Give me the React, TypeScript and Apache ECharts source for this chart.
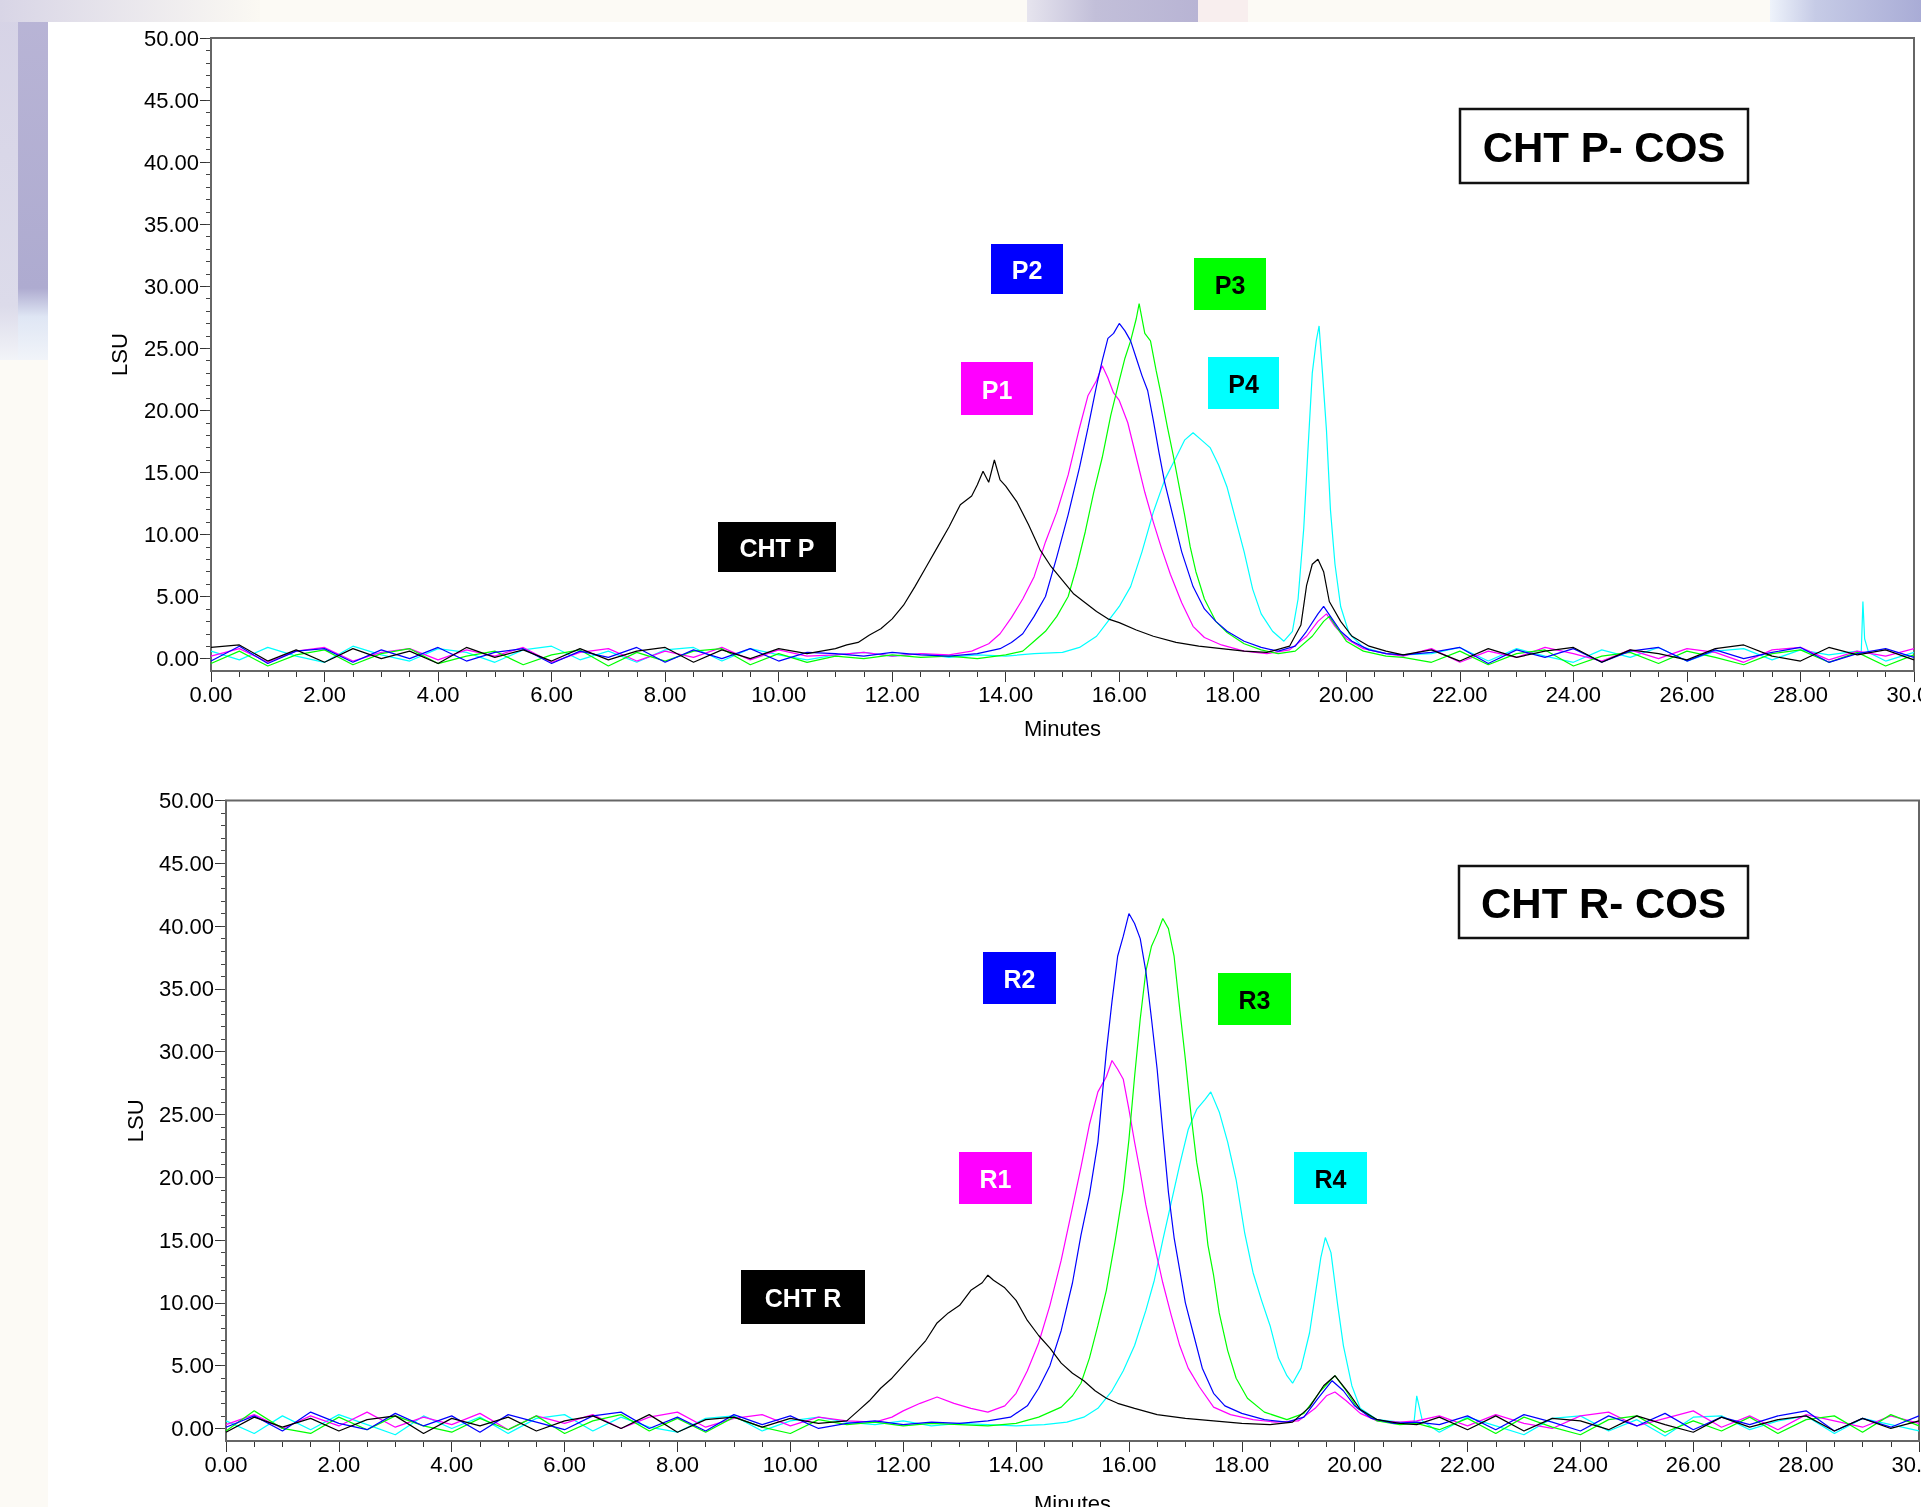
import React, { useEffect, useRef } from "react";
import * as echarts from "echarts";

const FONT = '"Liberation Sans", Arial, Helvetica, sans-serif';

// Shared time grids for the flat baseline stretches (minutes)
const earlyTimes = [0, 0.5, 1, 1.5, 2, 2.5, 3, 3.5, 4, 4.5, 5, 5.5, 6, 6.5, 7, 7.5, 8, 8.5, 9, 9.5, 10, 10.5];
const lateTimes = [21.5, 22, 22.5, 23, 23.5, 24, 24.5, 25, 25.5, 26, 26.5, 27, 27.5, 28, 28.5, 29, 29.5, 30];

const yMajorTicks = [0, 5, 10, 15, 20, 25, 30, 35, 40, 45, 50];
const yMinorTicks = [0, 1, 2, 3, 4, 5, 6, 7, 8, 9, 10, 11, 12, 13, 14, 15, 16, 17, 18, 19, 20, 21, 22, 23, 24, 25, 26, 27, 28, 29, 30, 31, 32, 33, 34, 35, 36, 37, 38, 39, 40, 41, 42, 43, 44, 45, 46, 47, 48, 49, 50];

// ---------------- Top chart: CHT P- COS ----------------
const chtP_early = [0.9, 1.1, -0.2, 0.7, -0.3, 0.8, 0.0, 0.6, -0.4, 0.9, 0.1, 0.7, -0.2, 0.8, -0.1, 0.6, 0.9, -0.3, 0.7, 0.0, 0.8, 0.4];
const chtP_mid = [[11, 0.8], [11.2, 1.1], [11.4, 1.3], [11.6, 1.9], [11.8, 2.4], [12, 3.2], [12.2, 4.3], [12.4, 5.8], [12.6, 7.4], [12.8, 9.0], [13, 10.6], [13.2, 12.4], [13.4, 13.1], [13.5, 14.0], [13.6, 15.1], [13.7, 14.2], [13.8, 16.0], [13.9, 14.4], [14, 13.9], [14.2, 12.6], [14.4, 10.8], [14.6, 8.8], [14.8, 7.4], [15, 6.3], [15.2, 5.2], [15.4, 4.5], [15.6, 3.8], [15.8, 3.2], [16, 2.9], [16.3, 2.3], [16.6, 1.8], [17, 1.3], [17.4, 1.0], [17.8, 0.8], [18.2, 0.6], [18.6, 0.5], [19, 1.0], [19.2, 2.7], [19.3, 5.9], [19.4, 7.6], [19.5, 8.0], [19.6, 7.0], [19.7, 4.6], [19.9, 3.0], [20.1, 1.8], [20.4, 1.0], [20.7, 0.6], [21, 0.3]];
const chtP_late = [0.7, -0.2, 0.8, 0.1, 0.6, 0.9, -0.3, 0.7, 0.4, -0.1, 0.8, 1.1, 0.2, -0.2, 0.9, 0.3, 0.7, -0.1];

const p1_early = [0.2, 0.8, -0.3, 0.6, 0.9, -0.2, 0.5, 0.8, -0.1, 0.7, 0.2, 0.9, -0.3, 0.5, 0.8, -0.2, 0.6, 0.1, 0.9, -0.1, 0.7, 0.2];
const p1_mid = [[11, 0.3], [11.5, 0.5], [12, 0.2], [12.5, 0.4], [13, 0.3], [13.4, 0.6], [13.7, 1.2], [13.9, 2.0], [14.1, 3.3], [14.3, 4.8], [14.5, 6.6], [14.7, 9.4], [14.9, 11.8], [15.1, 14.8], [15.3, 18.6], [15.45, 21.2], [15.6, 22.4], [15.7, 23.6], [15.8, 22.6], [15.9, 21.4], [16, 20.8], [16.15, 19.0], [16.3, 16.2], [16.45, 13.4], [16.6, 11.0], [16.75, 8.8], [16.9, 6.8], [17.1, 4.5], [17.3, 2.6], [17.5, 1.7], [17.8, 1.1], [18.2, 0.6], [18.6, 0.4], [19, 0.7], [19.3, 1.8], [19.5, 3.0], [19.65, 3.6], [19.8, 2.6], [20, 1.6], [20.3, 0.8], [20.7, 0.4], [21, 0.2]];
const p1_late = [0.8, -0.3, 0.6, 0.1, 0.9, 0.4, -0.2, 0.7, 0.0, 0.8, 0.5, -0.3, 0.7, 0.9, -0.1, 0.6, 0.2, 0.8];

const p2_early = [-0.2, 1.0, -0.4, 0.6, 0.8, -0.3, 0.7, 0.0, 0.9, -0.2, 0.5, 0.8, -0.4, 0.6, 0.1, 0.9, -0.3, 0.7, 0.0, 0.8, -0.2, 0.5];
const p2_mid = [[11, 0.4], [11.5, 0.2], [12, 0.5], [12.5, 0.3], [13, 0.2], [13.5, 0.4], [13.9, 0.8], [14.1, 1.3], [14.3, 2.0], [14.5, 3.4], [14.7, 5.0], [14.9, 8.2], [15.1, 11.6], [15.3, 15.4], [15.45, 18.6], [15.6, 22.0], [15.7, 24.0], [15.8, 25.8], [15.9, 26.2], [16, 27.0], [16.1, 26.4], [16.2, 25.6], [16.3, 24.2], [16.4, 22.8], [16.5, 21.6], [16.6, 19.2], [16.7, 16.6], [16.8, 14.2], [16.95, 11.4], [17.1, 8.6], [17.3, 5.8], [17.5, 4.0], [17.7, 3.0], [17.9, 2.2], [18.2, 1.4], [18.5, 0.9], [18.8, 0.6], [19.1, 1.0], [19.3, 2.2], [19.5, 3.6], [19.6, 4.2], [19.75, 3.2], [19.9, 2.2], [20.1, 1.4], [20.4, 0.7], [20.7, 0.4], [21, 0.3]];
const p2_late = [0.5, 0.9, -0.4, 0.7, 0.1, 0.8, -0.3, 0.6, 0.9, -0.2, 0.7, 0.0, 0.5, 0.9, -0.3, 0.4, 0.8, 0.1];

const p3_early = [-0.4, 0.6, -0.6, 0.3, 0.7, -0.5, 0.4, 0.8, -0.4, 0.2, 0.6, -0.5, 0.3, 0.7, -0.6, 0.5, -0.2, 0.6, 0.8, -0.5, 0.4, -0.3];
const p3_mid = [[11, 0.2], [11.5, 0.0], [12, 0.3], [12.5, 0.1], [13, 0.2], [13.5, 0.0], [14, 0.3], [14.3, 0.6], [14.5, 1.4], [14.7, 2.2], [14.9, 3.4], [15.1, 5.0], [15.25, 7.4], [15.4, 10.2], [15.55, 13.4], [15.7, 16.2], [15.85, 19.6], [16, 22.4], [16.1, 24.2], [16.2, 25.6], [16.3, 27.4], [16.35, 28.6], [16.45, 26.2], [16.55, 25.6], [16.65, 23.2], [16.75, 21.0], [16.85, 18.6], [16.95, 16.4], [17.05, 14.0], [17.15, 11.6], [17.25, 9.0], [17.35, 7.0], [17.5, 4.8], [17.7, 3.0], [17.9, 2.1], [18.2, 1.2], [18.5, 0.7], [18.8, 0.4], [19.1, 0.6], [19.4, 1.8], [19.6, 3.0], [19.7, 3.4], [19.85, 2.4], [20, 1.4], [20.3, 0.6], [20.7, 0.2], [21, 0.1]];
const p3_late = [-0.3, 0.6, -0.5, 0.4, 0.7, -0.6, 0.2, 0.5, -0.4, 0.6, 0.1, -0.5, 0.4, 0.7, -0.3, 0.5, -0.6, 0.3];

const p4_early = [0.6, -0.1, 0.9, 0.2, -0.3, 1.0, 0.3, -0.2, 0.8, 0.5, -0.3, 0.7, 1.0, -0.1, 0.6, -0.3, 0.7, 0.9, -0.2, 0.8, 0.3, -0.1];
const p4_mid = [[11, 0.3], [11.5, 0.5], [12, 0.2], [12.5, 0.4], [13, 0.1], [13.5, 0.3], [14, 0.2], [14.5, 0.4], [15, 0.5], [15.3, 0.9], [15.6, 1.8], [15.8, 3.0], [16, 4.2], [16.2, 5.8], [16.4, 8.6], [16.6, 11.8], [16.8, 14.4], [17, 16.2], [17.15, 17.6], [17.3, 18.2], [17.45, 17.6], [17.6, 17.0], [17.75, 15.6], [17.9, 13.8], [18.05, 11.2], [18.2, 8.6], [18.35, 5.6], [18.5, 3.6], [18.7, 2.2], [18.9, 1.4], [19.05, 2.2], [19.15, 4.8], [19.25, 10.5], [19.32, 16.5], [19.4, 23.0], [19.47, 25.6], [19.52, 26.8], [19.58, 23.0], [19.65, 18.4], [19.72, 12.0], [19.8, 7.6], [19.9, 4.2], [20.05, 2.0], [20.3, 0.9], [20.7, 0.4], [21, 0.3]];
const p4_late = [0.4, 0.9, -0.2, 0.8, 0.2, -0.3, 0.7, 0.1, 0.9, -0.2, 0.6, 0.8, -0.1, 0.7, 0.3, 0.6, -0.2, 0.5];
const p4_spike = [[29.07, 0.4], [29.1, 4.6], [29.13, 1.6], [29.2, 0.5]];

// ---------------- Bottom chart: CHT R- COS ----------------
const chtR_early = [-0.3, 0.9, 0.1, 0.8, -0.2, 0.7, 1.0, -0.4, 0.8, 0.2, 0.9, -0.2, 0.6, 1.0, 0.0, 1.1, -0.3, 0.7, 0.9, 0.1, 0.8, 0.4];
const chtR_mid = [[11, 0.6], [11.2, 1.4], [11.4, 2.2], [11.6, 3.2], [11.8, 4.0], [12, 5.0], [12.2, 6.0], [12.4, 7.0], [12.6, 8.4], [12.8, 9.2], [13, 9.8], [13.2, 11.0], [13.4, 11.6], [13.5, 12.2], [13.6, 11.8], [13.8, 11.2], [14, 10.2], [14.2, 8.6], [14.4, 7.4], [14.6, 6.4], [14.8, 5.2], [15, 4.4], [15.2, 3.8], [15.4, 3.0], [15.6, 2.4], [15.8, 2.0], [16.1, 1.6], [16.5, 1.1], [17, 0.8], [17.5, 0.6], [18, 0.4], [18.5, 0.3], [18.9, 0.5], [19.2, 1.7], [19.45, 3.4], [19.65, 4.2], [19.9, 2.8], [20.1, 1.5], [20.4, 0.7], [20.8, 0.4], [21.1, 0.3]];
const chtR_late = [0.9, -0.1, 1.0, -0.2, 0.8, 0.6, -0.1, 1.0, 0.3, -0.3, 0.9, 0.1, 0.7, 1.0, -0.2, 0.8, 0.0, 0.6];

const r1_early = [0.3, 1.1, 0.0, 1.0, 0.2, 1.3, 0.1, 0.9, 0.3, 1.2, -0.1, 1.0, 0.4, 1.1, 0.0, 0.9, 1.3, 0.1, 0.8, 1.1, 0.2, 0.9];
const r1_mid = [[11, 0.6], [11.5, 0.5], [11.8, 0.9], [12, 1.4], [12.3, 2.0], [12.6, 2.5], [12.9, 2.0], [13.2, 1.6], [13.5, 1.3], [13.8, 1.8], [14, 2.8], [14.2, 4.6], [14.4, 6.8], [14.6, 9.8], [14.8, 13.4], [15, 17.6], [15.15, 20.8], [15.3, 24.2], [15.45, 26.8], [15.6, 28.0], [15.7, 29.3], [15.8, 28.6], [15.9, 27.8], [16, 25.4], [16.1, 22.8], [16.2, 20.4], [16.3, 17.8], [16.45, 14.6], [16.6, 11.6], [16.75, 9.0], [16.9, 6.6], [17.05, 4.8], [17.25, 3.3], [17.5, 1.7], [17.8, 1.1], [18.2, 0.7], [18.6, 0.5], [19, 0.6], [19.3, 1.6], [19.5, 2.6], [19.65, 2.9], [19.85, 2.2], [20.1, 1.2], [20.4, 0.6], [20.8, 0.5], [21.1, 0.6]];
const r1_late = [1.0, 0.2, 1.1, 0.4, 0.0, 1.0, 1.3, 0.2, 0.8, 1.4, 0.1, 1.0, -0.1, 1.1, 0.6, 0.1, 1.0, 0.4];

const r2_early = [0.1, 1.0, -0.2, 1.3, 0.4, -0.1, 1.2, 0.2, 1.0, -0.3, 1.1, 0.5, -0.1, 1.0, 1.3, 0.0, 0.9, -0.2, 1.1, 0.3, 1.0, 0.0];
const r2_mid = [[11, 0.4], [11.5, 0.6], [12, 0.3], [12.5, 0.5], [13, 0.4], [13.5, 0.6], [13.9, 0.9], [14.2, 1.8], [14.4, 3.2], [14.6, 5.0], [14.8, 7.8], [15, 11.6], [15.15, 15.4], [15.3, 18.6], [15.45, 22.8], [15.6, 30.0], [15.7, 34.0], [15.8, 37.6], [15.9, 39.2], [16, 41.0], [16.1, 40.2], [16.2, 39.0], [16.3, 36.4], [16.4, 32.6], [16.5, 28.6], [16.6, 23.6], [16.7, 18.8], [16.8, 15.2], [16.9, 12.6], [17, 10.0], [17.15, 7.4], [17.3, 4.8], [17.5, 2.8], [17.7, 1.8], [18, 1.2], [18.4, 0.7], [18.8, 0.5], [19.1, 0.9], [19.35, 2.4], [19.6, 3.8], [19.8, 3.0], [20, 1.8], [20.3, 0.8], [20.7, 0.4], [21.1, 0.5]];
const r2_late = [0.3, 1.0, -0.1, 1.1, 0.5, -0.2, 1.0, 0.2, 1.2, -0.1, 0.9, 0.3, 1.0, 1.4, -0.2, 0.8, 0.1, 1.0];

const r3_early = [-0.2, 1.4, 0.0, -0.4, 0.9, -0.1, 1.0, 0.2, -0.3, 0.8, -0.1, 1.0, -0.4, 0.6, 1.1, -0.2, 0.8, -0.3, 0.9, 0.1, -0.4, 0.7];
const r3_mid = [[11, 0.3], [11.5, 0.5], [12, 0.2], [12.5, 0.4], [13, 0.3], [13.5, 0.2], [14, 0.4], [14.4, 0.9], [14.8, 1.7], [15, 2.6], [15.15, 3.6], [15.3, 5.6], [15.45, 8.2], [15.6, 11.0], [15.75, 14.8], [15.9, 19.0], [16, 23.0], [16.1, 28.0], [16.2, 32.6], [16.3, 36.4], [16.4, 38.4], [16.5, 39.4], [16.6, 40.6], [16.7, 39.8], [16.8, 37.6], [16.9, 33.4], [17, 29.4], [17.1, 25.0], [17.2, 21.2], [17.3, 18.6], [17.4, 14.6], [17.5, 12.2], [17.6, 9.2], [17.75, 6.2], [17.9, 4.0], [18.1, 2.4], [18.4, 1.3], [18.8, 0.7], [19.1, 1.2], [19.4, 3.0], [19.65, 4.2], [19.85, 3.0], [20.05, 1.6], [20.4, 0.6], [20.8, 0.3], [21.1, 0.4]];
const r3_late = [-0.1, 0.8, -0.4, 0.9, 0.1, -0.5, 0.7, 1.0, -0.3, 0.6, -0.2, 0.9, -0.4, 0.7, 1.0, -0.3, 1.1, 0.2];

const r4_early = [0.6, -0.4, 1.0, -0.1, 1.1, 0.3, -0.5, 1.0, 0.0, 0.9, -0.4, 0.8, 1.1, -0.2, 0.9, 0.1, -0.3, 0.8, 1.0, -0.2, 0.6, 0.9];
const r4_mid = [[11, 0.5], [11.5, 0.3], [12, 0.6], [12.5, 0.2], [13, 0.4], [13.5, 0.3], [14, 0.2], [14.5, 0.3], [14.9, 0.5], [15.2, 0.9], [15.45, 1.6], [15.7, 3.0], [15.9, 4.6], [16.1, 6.6], [16.3, 9.4], [16.45, 11.8], [16.6, 15.0], [16.75, 18.0], [16.9, 21.0], [17.05, 23.8], [17.2, 25.4], [17.35, 26.2], [17.45, 26.8], [17.6, 25.2], [17.75, 22.8], [17.9, 19.8], [18.05, 15.6], [18.2, 12.4], [18.35, 10.2], [18.5, 8.2], [18.65, 5.6], [18.8, 4.2], [18.9, 3.6], [19.05, 4.8], [19.2, 7.6], [19.3, 10.6], [19.4, 13.6], [19.48, 15.2], [19.58, 14.0], [19.7, 9.8], [19.8, 6.6], [19.95, 3.4], [20.1, 1.6], [20.4, 0.7], [20.8, 0.5], [21.05, 0.4], [21.1, 2.6], [21.2, 0.6]];
const r4_late = [-0.3, 0.9, 0.2, -0.5, 0.8, 1.0, -0.2, 0.7, -0.6, 0.9, 1.0, -0.1, 0.6, 1.0, -0.4, 0.8, 0.3, -0.2];

function buildSeries(early: number[], mid: number[][], late: number[], extra: number[][] = []) {
  const pts = [
    ...earlyTimes.map((t, i) => [t, early[i]]),
    ...mid,
    ...lateTimes.map((t, i) => [t, late[i]]),
    ...extra,
  ];
  return pts.sort((a, b) => a[0] - b[0]);
}

const COLORS = { black: "#000000", magenta: "#ff00ff", blue: "#0000ff", green: "#00ff00", cyan: "#00ffff" };

function lineSeries(name: string, color: string, data: number[][], xi: number, yi: number) {
  return {
    type: "line",
    name,
    xAxisIndex: xi,
    yAxisIndex: yi,
    data,
    showSymbol: false,
    symbol: "none",
    lineStyle: { color, width: 1.2 },
    itemStyle: { color },
    z: 3,
  };
}

function xAxisCfg(gridIndex: number, nameGap: number) {
  return {
    type: "value",
    gridIndex,
    min: 0,
    max: 30,
    interval: 2,
    name: "Minutes",
    nameLocation: "middle",
    nameGap,
    nameTextStyle: { fontSize: 22, color: "#000", fontFamily: FONT },
    axisLine: { show: true, onZero: false, lineStyle: { color: "#808080", width: 2 } },
    axisTick: { show: true, length: 11, lineStyle: { color: "#333", width: 1 } },
    minorTick: { show: true, splitNumber: 4, length: 6, lineStyle: { color: "#333", width: 1 } },
    axisLabel: { fontSize: 22, color: "#000", margin: 12, fontFamily: FONT, formatter: (v: number) => v.toFixed(2) },
    splitLine: { show: false },
    minorSplitLine: { show: false },
  };
}

function yAxisCfg(gridIndex: number, nameGap: number) {
  return {
    type: "value",
    gridIndex,
    min: -1,
    max: 50,
    name: "LSU",
    nameLocation: "middle",
    nameRotate: 90,
    nameGap,
    nameTextStyle: { fontSize: 22, color: "#000", fontFamily: FONT },
    axisLine: { show: true, onZero: false, lineStyle: { color: "#333", width: 1.5 } },
    axisTick: { show: true, length: 11, customValues: yMajorTicks, lineStyle: { color: "#333", width: 1 } },
    axisLabel: { fontSize: 22, color: "#000", margin: 12, fontFamily: FONT, customValues: yMajorTicks, formatter: (v: number) => v.toFixed(2) },
    splitLine: { show: false },
  };
}

function yMinorCfg(gridIndex: number) {
  return {
    type: "value",
    gridIndex,
    min: -1,
    max: 50,
    position: "left",
    axisLine: { show: false },
    axisLabel: { show: false },
    splitLine: { show: false },
    axisTick: { show: true, length: 5, customValues: yMinorTicks, lineStyle: { color: "#444", width: 1 } },
  };
}

function labelBox(x: number, y: number, w: number, h: number, fill: string, text: string, textColor: string, fontSize: number, stroke?: string) {
  return {
    type: "group",
    children: [
      {
        type: "rect",
        shape: { x, y, width: w, height: h },
        style: { fill, stroke: stroke || "none", lineWidth: stroke ? 2.5 : 0 },
        z: 100,
      },
      {
        type: "text",
        x: x + w / 2,
        y: y + h / 2 + 1,
        style: { text, fill: textColor, fontSize, fontWeight: "bold", fontFamily: FONT, align: "center", verticalAlign: "middle" },
        z: 101,
      },
    ],
  };
}

function background() {
  const lg = (stops: [number, string][], vertical = true) =>
    new echarts.graphic.LinearGradient(0, 0, vertical ? 0 : 1, vertical ? 1 : 0, stops.map(([offset, color]) => ({ offset, color })));
  return [
    { type: "rect", shape: { x: 0, y: 0, width: 1921, height: 1507 }, style: { fill: "#fcfaf5" }, z: -30 },
    // left decorative strip
    { type: "rect", shape: { x: 0, y: 0, width: 18, height: 360 }, style: { fill: lg([[0, "#d6d3e6"], [0.85, "#dcdbea"], [1, "#f2f4f8"]]) }, z: -20 },
    { type: "rect", shape: { x: 18, y: 0, width: 31, height: 360 }, style: { fill: lg([[0, "#b9b5d6"], [0.8, "#aeabd0"], [0.88, "#dfe6f4"], [1, "#f1f4f9"]]) }, z: -20 },
    // top decorative strip
    { type: "rect", shape: { x: 0, y: 0, width: 260, height: 22 }, style: { fill: lg([[0, "#d8d5e6"], [1, "#fbf9f3"]], false) }, z: -20 },
    { type: "rect", shape: { x: 1027, y: 0, width: 171, height: 22 }, style: { fill: lg([[0, "#e6e4ee"], [0.4, "#c2bfd9"], [1, "#b8b4d4"]], false) }, z: -20 },
    { type: "rect", shape: { x: 1198, y: 0, width: 50, height: 22 }, style: { fill: "#f8eeee" }, z: -20 },
    { type: "rect", shape: { x: 1770, y: 0, width: 151, height: 22 }, style: { fill: lg([[0, "#eef3fb"], [0.3, "#c6cbe6"], [1, "#a9acd6"]], false) }, z: -20 },
    // white slide panel
    { type: "rect", shape: { x: 48, y: 22, width: 1873, height: 1485 }, style: { fill: "#ffffff" }, z: -10 },
  ];
}

export default function App() {
  const ref = useRef<HTMLDivElement>(null);

  useEffect(() => {
    if (!ref.current) return;
    const chart = echarts.init(ref.current, null, { renderer: "svg" });

    const option = {
      animation: false,
      backgroundColor: "transparent",
      textStyle: { fontFamily: FONT },
      grid: [
        { left: 211, top: 38, width: 1703, height: 633, show: true, borderColor: "#666", borderWidth: 2, backgroundColor: "transparent", z: 1, containLabel: false, outerBoundsMode: "none" },
        { left: 226, top: 800.5, width: 1693, height: 640.5, show: true, borderColor: "#666", borderWidth: 2, backgroundColor: "transparent", z: 1, containLabel: false, outerBoundsMode: "none" },
      ],
      xAxis: [xAxisCfg(0, 46), xAxisCfg(1, 51)],
      yAxis: [yAxisCfg(0, 81), yMinorCfg(0), yAxisCfg(1, 80), yMinorCfg(1)],
      series: [
        lineSeries("P4", COLORS.cyan, buildSeries(p4_early, p4_mid, p4_late, p4_spike), 0, 0),
        lineSeries("P1", COLORS.magenta, buildSeries(p1_early, p1_mid, p1_late), 0, 0),
        lineSeries("P3", COLORS.green, buildSeries(p3_early, p3_mid, p3_late), 0, 0),
        lineSeries("P2", COLORS.blue, buildSeries(p2_early, p2_mid, p2_late), 0, 0),
        lineSeries("CHT P", COLORS.black, buildSeries(chtP_early, chtP_mid, chtP_late), 0, 0),
        lineSeries("R4", COLORS.cyan, buildSeries(r4_early, r4_mid, r4_late), 1, 2),
        lineSeries("R1", COLORS.magenta, buildSeries(r1_early, r1_mid, r1_late), 1, 2),
        lineSeries("R3", COLORS.green, buildSeries(r3_early, r3_mid, r3_late), 1, 2),
        lineSeries("R2", COLORS.blue, buildSeries(r2_early, r2_mid, r2_late), 1, 2),
        lineSeries("CHT R", COLORS.black, buildSeries(chtR_early, chtR_mid, chtR_late), 1, 2),
      ],
      graphic: [
        ...background(),
        labelBox(1460, 109, 288, 74, "#ffffff", "CHT P- COS", "#000", 42, "#111"),
        labelBox(991, 244, 72, 50, COLORS.blue, "P2", "#ffffff", 25),
        labelBox(1194, 258, 72, 52, COLORS.green, "P3", "#000000", 25),
        labelBox(961, 362, 72, 53, COLORS.magenta, "P1", "#ffffff", 25),
        labelBox(1208, 357, 71, 52, COLORS.cyan, "P4", "#000000", 25),
        labelBox(718, 522, 118, 50, "#000000", "CHT P", "#ffffff", 25),
        labelBox(1459, 866, 289, 72, "#ffffff", "CHT R- COS", "#000", 42, "#111"),
        labelBox(983, 952, 73, 52, COLORS.blue, "R2", "#ffffff", 25),
        labelBox(1218, 973, 73, 52, COLORS.green, "R3", "#000000", 25),
        labelBox(959, 1152, 73, 52, COLORS.magenta, "R1", "#ffffff", 25),
        labelBox(1294, 1152, 73, 52, COLORS.cyan, "R4", "#000000", 25),
        labelBox(741, 1270, 124, 54, "#000000", "CHT R", "#ffffff", 25),
      ],
    };

    chart.setOption(option as any);
    return () => chart.dispose();
  }, []);

  return <div ref={ref} style={{ position: "fixed", left: 0, top: 0, width: 1921, height: 1507 }} />;
}
